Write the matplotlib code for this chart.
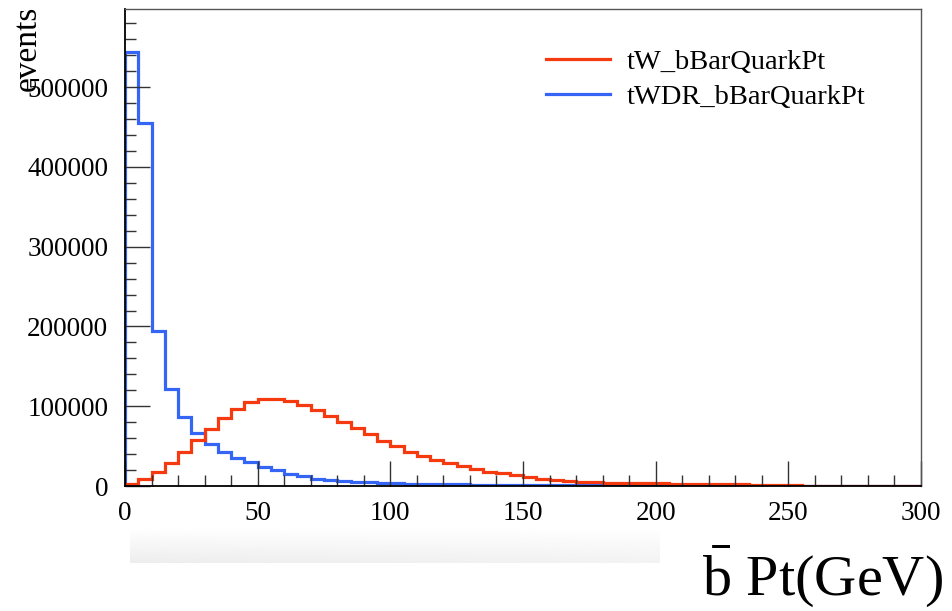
"""b-bar quark Pt histogram: tW vs tWDR."""

import matplotlib
matplotlib.use("Agg")
import matplotlib.pyplot as plt
import numpy as np
from matplotlib.ticker import MultipleLocator

plt.rcParams["font.family"] = ["Liberation Serif", "DejaVu Serif"]
plt.rcParams["mathtext.fontset"] = "custom"
plt.rcParams["mathtext.rm"] = "Liberation Serif"

# bin edges (GeV), 60 bins of 5 GeV
bin_edges = np.arange(0, 305, 5)

# tW_bBarQuarkPt (events per bin)
tw_counts = [
    2000, 8700, 18000, 29000, 42000, 57500, 71000, 85000, 97000, 105000,
    109000, 109000, 106000, 101000, 95500, 88000, 80500, 72500, 65000, 57000,
    50000, 43000, 38000, 33000, 28500, 24600, 20800, 17900, 15800, 13300,
    11200, 9100, 7500, 6200, 5600, 5000, 4200, 3800, 3600, 3400,
    3200, 3000, 2800, 2600, 2400, 2200, 2000, 1800, 1700, 1600,
    1500, 0, 0, 0, 0, 0, 0, 0, 0, 0,
]

# tWDR_bBarQuarkPt (events per bin)
twdr_counts = [
    543500, 454500, 194000, 121000, 87000, 66000, 53000, 43000, 35500, 29500,
    24300, 19500, 15200, 12200, 9200, 7600, 6200, 5000, 4400, 3800,
    3300, 3000, 2700, 2400, 2200, 2000, 1800, 1700, 1600, 1500,
    1400, 1300, 1200, 1100, 1000, 950, 900, 850, 800, 750,
    700, 650, 600, 550, 500, 450, 400, 0, 0, 0,
    0, 0, 0, 0, 0, 0, 0, 0, 0, 0,
]

series_labels = ["tW_bBarQuarkPt", "tWDR_bBarQuarkPt"]
series_colors = ["#f53a10", "#3565f5"]

W, H = 953, 611
fig = plt.figure(figsize=(W / 100, H / 100), dpi=100)

# faint shadow band under the x tick labels
grad = fig.add_axes([130 / W, 1 - 563 / H, (660 - 130) / W, 36 / H], zorder=0)
g = np.linspace(0.0, 1.0, 50)[:, None] * np.linspace(1.0, 0.7, 200)[None, :]
grad.imshow(1 - 0.07 * g, cmap="gray", vmin=0, vmax=1, aspect="auto",
            interpolation="bilinear")
grad.axis("off")

ax = fig.add_axes([125 / W, 1 - 486 / H, (921 - 125) / W, (486 - 9) / H],
                  zorder=2)
ax.patch.set_alpha(0)

ax.stairs(twdr_counts, bin_edges, baseline=0, color=series_colors[1],
          linewidth=2.3, label=series_labels[1])
ax.stairs(tw_counts, bin_edges, baseline=0, color=series_colors[0],
          linewidth=2.3, label=series_labels[0])

ax.set_xlim(0, 300)
ax.set_ylim(0, 598000)

ax.xaxis.set_major_locator(MultipleLocator(50))
ax.xaxis.set_minor_locator(MultipleLocator(10))
ax.yaxis.set_major_locator(MultipleLocator(100000))
ax.yaxis.set_minor_locator(MultipleLocator(20000))
ax.tick_params(which="both", direction="in", top=False, right=False,
               labelsize=19.5, width=1.0, color="#333333")
ax.tick_params(which="major", length=18)
ax.tick_params(which="minor", length=8)
ax.tick_params(axis="x", which="major", pad=11)
ax.tick_params(axis="y", which="major", pad=12)
ax.yaxis.set_major_formatter(lambda v, pos: f"{int(v)}")

for side in ["top", "right"]:
    ax.spines[side].set_color("#555555")
    ax.spines[side].set_linewidth(1.0)
for side in ["left", "bottom"]:
    ax.spines[side].set_color("black")
    ax.spines[side].set_linewidth(1.3)

handles, labels = ax.get_legend_handles_labels()
ax.legend(handles[::-1], labels[::-1], loc="upper left",
          bbox_to_anchor=(546 / W, 1 - 49 / H), bbox_transform=fig.transFigure,
          frameon=False, fontsize=20.5, handlelength=2.25, handletextpad=0.6,
          labelspacing=0.33, borderpad=0, borderaxespad=0)

fig.text(28 / W, 1 - 6 / H, "events", rotation=90, ha="center", va="top",
         fontsize=24)

# x-axis title on its own white box at the lower right
fig.text(943 / W, 1 - 595 / H, r"$\bar{\mathrm{b}}$ Pt(GeV)", ha="right",
         va="baseline", fontsize=42,
         bbox=dict(facecolor="white", edgecolor="none", pad=0))

fig.savefig("out.png", dpi=100)
